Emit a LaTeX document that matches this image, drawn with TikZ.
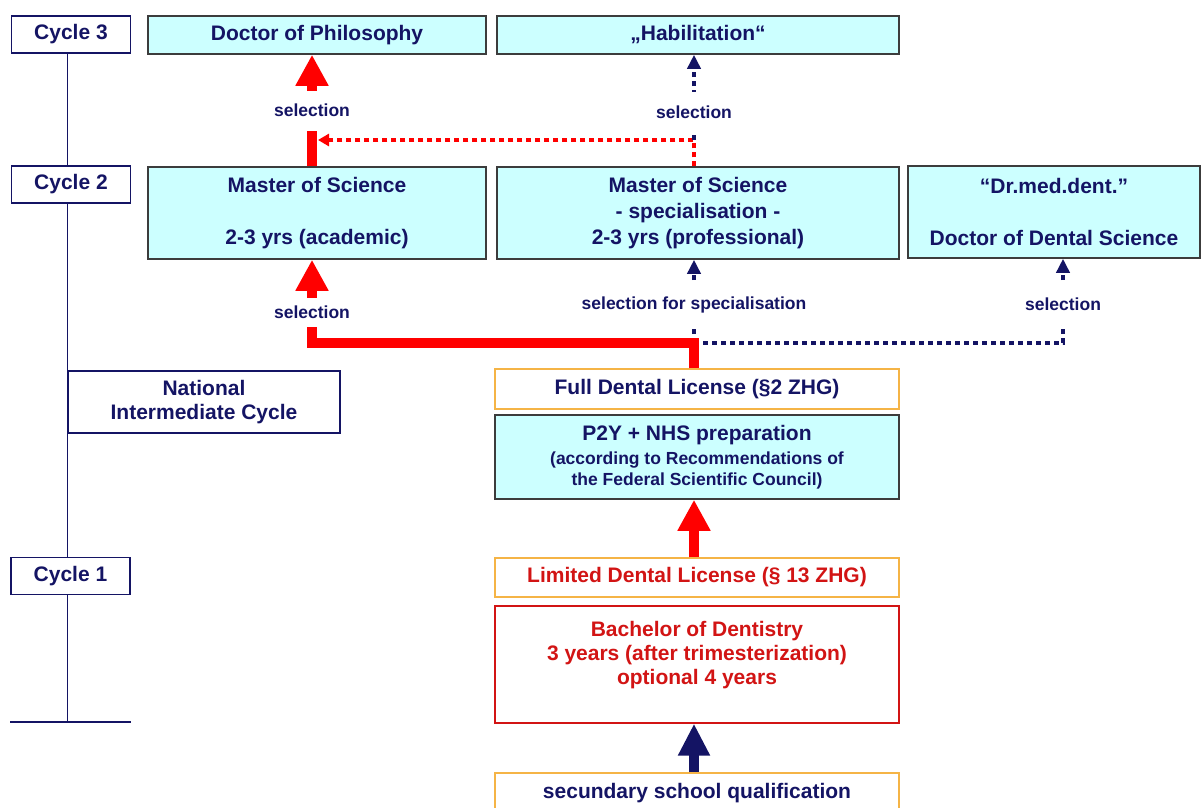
\documentclass[tikz,border=0pt]{standalone}
\usepackage{fontspec}
\setmainfont{Liberation Sans}
\usetikzlibrary{arrows.meta, backgrounds}
\definecolor{navytext}{RGB}{20,20,100}
\definecolor{paleCyan}{RGB}{204,255,255}
\definecolor{boxGrey}{RGB}{60,60,60}
\definecolor{licOrange}{RGB}{245,180,70}
\definecolor{darkRed}{RGB}{210,20,20}
\definecolor{arrowRed}{RGB}{255,0,0}
\newcommand{\subtxt}{\fontsize{17.5}{21}\selectfont}

\begin{document}
\begin{tikzpicture}[x=1pt, y=-1pt,
    every node/.style={font=\bfseries\fontsize{21}{26}\selectfont, text=navytext, align=center, inner sep=0pt},
    cyclebox/.style={draw=navytext, line width=1.3pt, fill=white, minimum width=119pt, minimum height=37pt},
    degree/.style={draw=boxGrey, line width=1.5pt, fill=paleCyan},
    license/.style={draw=licOrange, line width=1.5pt, fill=white, minimum width=404pt},
    lbl/.style={font=\bfseries\subtxt, fill=white, minimum height=#1},
    lbl/.default=30pt,
    timeline/.style={draw=navytext, line width=1.3pt},
    fatred/.style={draw=arrowRed, line width=10.5pt, -{Triangle[width=31pt,length=31pt]}},
    fatnavy/.style={draw=navytext, line width=10.5pt, -{Triangle[width=30pt,length=32pt]}},
    navydot/.style={draw=navytext, line width=4pt, dash pattern=on 5pt off 4pt, -{Triangle[width=13pt,length=14pt]}},
    reddot/.style={draw=arrowRed, line width=4pt, dash pattern=on 5pt off 4pt, -{Triangle[width=12pt,length=11pt]}}]
    \useasboundingbox (0,0) rectangle (1202,807);

    % columns and junctions
    \coordinate (colA) at (312,0);
    \coordinate (colB) at (694,0);
    \coordinate (colC) at (1063,0);
    \coordinate (merge) at (694,140);
    \coordinate (hit) at (318,140);
    \coordinate (fork) at (694,343);
    \coordinate (base) at (0,722);

    % cycle 3
    \node[cyclebox] (cyc3) at (71,34.5) {Cycle 3};
    \node[degree, minimum width=338pt, minimum height=38pt] (phd) at (317,35) {Doctor of Philosophy};
    \node[degree, minimum width=402pt, minimum height=38pt] (habil) at (698,35) {„Habilitation“};

    % cycle 2
    \node[cyclebox] (cyc2) at (71,184.5) {Cycle 2};
    \node[degree, minimum width=338pt, minimum height=92pt] (msacad) at (317,213) {Master of Science\\[26pt]2-3 yrs (academic)};
    \node[degree, minimum width=402pt, minimum height=92pt] (msspec) at (698,213) {Master of Science\\- specialisation -\\2-3 yrs (professional)};
    \node[degree, minimum width=292pt, minimum height=92pt] (drmed) at (1054,212) {“Dr.med.dent.”\\[26pt]Doctor of Dental Science};

    % intermediate
    \node[draw=navytext, line width=1.3pt, fill=white, minimum width=272pt, minimum height=62pt] (natl) at (204,402) {National\\[-2pt]Intermediate Cycle};
    \node[license, minimum height=40pt] (full) at (697,389) {Full Dental License (§2 ZHG)};
    \node[degree, minimum width=404pt, minimum height=84pt] (p2y) at (697,457) {P2Y + NHS preparation\\[-2pt]\subtxt (according to Recommendations of\\[-5pt]\subtxt the Federal Scientific Council)};

    % cycle 1
    \node[cyclebox] (cyc1) at (70.5,576) {Cycle 1};
    \node[license, minimum height=39pt, text=darkRed] (limited) at (697,577.5) {Limited Dental License (§ 13 ZHG)};
    \node[draw=darkRed, line width=1.3pt, fill=white, minimum width=404pt, minimum height=117pt, text=darkRed] (bach) at (697,664.5) {Bachelor of Dentistry\\[-2pt]3 years (after trimesterization)\\[-2pt]optional 4 years\\[-2pt]~};
    \node[license, minimum height=40pt] (school) at (697,793) {secundary school qualification};

    % time line
    \begin{scope}[on background layer]
        \draw[timeline] (cyc3.south -| natl.west) -- (natl.west |- base);
    \end{scope}
    \draw[timeline] (cyc1.west |- base) -- (cyc1.east |- base);

    % selection paths
    \draw[fatred] (msacad.north -| colA) -- node[lbl=40pt]{selection} (phd.south -| colA);
    \draw[reddot] (msspec.north -| colB) |- (hit);
    \draw[navydot] (merge) -- node[lbl=40pt, pos=0.33]{selection} (habil.south -| colB);
    \draw[navydot] (fork) -- node[lbl=42pt, pos=0.46]{selection for specialisation} (msspec.south -| colB);
    \draw[navydot] (fork) -| node[lbl=42pt, pos=0.73]{selection} (drmed.south -| colC);
    \draw[fatred] (full.north -| colB) -- (fork) -| node[lbl=29pt, pos=0.685]{selection} (msacad.south -| colA);
    \draw[fatred] (limited.north -| colB) -- (p2y.south -| colB);
    \draw[fatnavy] (school.north -| colB) -- (bach.south -| colB);
\end{tikzpicture}
\end{document}
